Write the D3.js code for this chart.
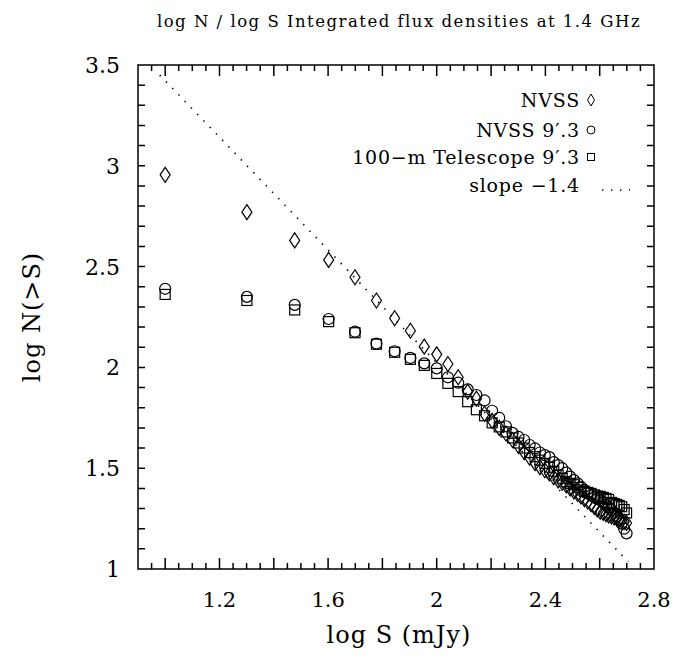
<!DOCTYPE html>
<html>
<head>
<meta charset="utf-8">
<script src="https://cdn.jsdelivr.net/npm/d3@7"></script>
<style>
  body { margin: 0; background: #fff; }
  text { font-family: "DejaVu Serif", "Liberation Serif", serif; fill: #000; }
</style>
</head>
<body>
<svg id="chart" width="688" height="659"></svg>
<script>
// log S (mJy), thresholds 10, 20, ... 500 mJy
const logS = [1.000, 1.301, 1.477, 1.602, 1.699, 1.778, 1.845, 1.903, 1.954, 2.000,
  2.041, 2.079, 2.114, 2.146, 2.176, 2.204, 2.230, 2.255, 2.279, 2.301,
  2.322, 2.342, 2.362, 2.380, 2.398, 2.415, 2.431, 2.447, 2.462, 2.477,
  2.491, 2.505, 2.519, 2.531, 2.544, 2.556, 2.568, 2.580, 2.591, 2.602,
  2.613, 2.623, 2.633, 2.643, 2.653, 2.663, 2.672, 2.681, 2.690, 2.699];

// NVSS (diamonds)
const nvss = [2.955, 2.770, 2.630, 2.533, 2.447, 2.332, 2.244, 2.182, 2.103, 2.065,
  2.017, 1.951, 1.880, 1.845, 1.770, 1.735, 1.700, 1.672, 1.640, 1.610,
  1.580, 1.552, 1.525, 1.505, 1.490, 1.474, 1.455, 1.440, 1.428, 1.415,
  1.400, 1.385, 1.372, 1.360, 1.347, 1.335, 1.322, 1.308, 1.296, 1.285,
  1.278, 1.272, 1.266, 1.261, 1.256, 1.251, 1.246, 1.240, 1.234, 1.228];

// NVSS 9'.3 (circles)
const nvss93 = [2.390, 2.350, 2.310, 2.240, 2.177, 2.118, 2.080, 2.047, 2.020, 1.995,
  1.951, 1.924, 1.891, 1.863, 1.836, 1.785, 1.750, 1.708, 1.675, 1.655,
  1.640, 1.615, 1.598, 1.578, 1.565, 1.555, 1.530, 1.515, 1.500, 1.478,
  1.458, 1.441, 1.425, 1.408, 1.392, 1.378, 1.365, 1.355, 1.348, 1.342,
  1.330, 1.318, 1.305, 1.293, 1.278, 1.262, 1.243, 1.225, 1.200, 1.177];

// 100-m Telescope 9'.3 (squares)
const telescope = [2.362, 2.332, 2.285, 2.227, 2.172, 2.115, 2.075, 2.040, 2.010, 1.970,
  1.921, 1.880, 1.830, 1.790, 1.760, 1.725, 1.705, 1.680, 1.650, 1.625,
  1.600, 1.578, 1.557, 1.540, 1.524, 1.505, 1.485, 1.466, 1.450, 1.433,
  1.425, 1.418, 1.405, 1.392, 1.385, 1.380, 1.375, 1.368, 1.362, 1.360,
  1.355, 1.350, 1.345, 1.330, 1.325, 1.320, 1.315, 1.309, 1.295, 1.278];

// slope -1.4 reference line, end points
const slopeX = [0.98, 2.705];
const slopeY = [3.45, 1.036];

const xTickLabels = [1.2, 1.6, 2, 2.4, 2.8];
const yTickLabels = [1, 1.5, 2, 2.5, 3, 3.5];
const legendLabels = ["NVSS", "NVSS 9\u2032.3", "100\u2212m Telescope 9\u2032.3", "slope \u22121.4"];

const svg = d3.select("#chart");
const pLeft = 138, pRight = 654, pTop = 65, pBottom = 569;

const x = d3.scaleLinear().domain([0.9, 2.8]).range([pLeft, pRight]);
const y = d3.scaleLinear().domain([1, 3.5]).range([pBottom, pTop]);

const g = svg.append("g");

// frame and inward ticks in one path (x: minor 0.05, major 0.2; y: every 0.1)
let framePath = `M${pLeft},${pTop}H${pRight}V${pBottom}H${pLeft}Z`;
for (let i = 0; i <= 38; i++) {
  const px = Math.round(x(0.9 + i * 0.05) * 10) / 10;
  const len = (i - 2) % 4 === 0 ? 11 : 6;
  framePath += ` M${px},${pBottom} L${px},${pBottom - len} M${px},${pTop} L${px},${pTop + len}`;
}
for (let i = 0; i <= 25; i++) {
  const py = Math.round(y(1 + i * 0.1) * 10) / 10;
  framePath += ` M${pLeft},${py} L${pLeft + 7},${py} M${pRight},${py} L${pRight - 7},${py}`;
}
g.append("path").attr("d", framePath)
  .attr("fill", "none").attr("stroke", "#000").attr("stroke-width", 1.5);

// tick labels
g.append("g").selectAll("text").data(xTickLabels).join("text")
  .attr("x", d => x(d)).attr("y", pBottom + 38)
  .attr("text-anchor", "middle").attr("font-size", 21)
  .text(d => d);
g.append("g").selectAll("text").data(yTickLabels).join("text")
  .attr("x", pLeft - 18).attr("y", d => y(d) + 8)
  .attr("text-anchor", "end").attr("font-size", 22)
  .text(d => d);

// titles
svg.append("text").attr("x", 399).attr("y", 27)
  .attr("text-anchor", "middle").attr("font-size", 16.5)
  .attr("letter-spacing", 1.5)
  .text("log N / log S Integrated flux densities at 1.4 GHz");
svg.append("text").attr("x", 399).attr("y", 643)
  .attr("text-anchor", "middle").attr("font-size", 24)
  .attr("letter-spacing", 1)
  .text("log S (mJy)");
svg.append("text").attr("transform", "translate(40,317) rotate(-90)")
  .attr("text-anchor", "middle").attr("font-size", 24)
  .attr("letter-spacing", 1)
  .text("log N(>S)");

// slope line
g.append("line")
  .attr("x1", x(slopeX[0])).attr("y1", y(slopeY[0]))
  .attr("x2", x(slopeX[1])).attr("y2", y(slopeY[1]))
  .attr("stroke", "#000").attr("stroke-width", 1.6)
  .attr("stroke-dasharray", "1.4 7.6");

// markers
const pts = (vals) => logS.map((s, i) => ({ s: s, v: vals[i] }));
const stroke = (sel) => sel.attr("fill", "none").attr("stroke", "#000").attr("stroke-width", 1.2);

const diamond = (cx, cy, w, h) => `M${cx},${cy - h}L${cx + w},${cy}L${cx},${cy + h}L${cx - w},${cy}Z`;

g.append("g").selectAll("path").data(pts(nvss)).join("path")
  .attr("d", d => diamond(x(d.s), y(d.v), 5, 7.5)).call(stroke);

g.append("g").selectAll("circle").data(pts(nvss93)).join("circle")
  .attr("cx", d => x(d.s)).attr("cy", d => y(d.v)).attr("r", 5.5).call(stroke);

g.append("g").selectAll("rect").data(pts(telescope)).join("rect")
  .attr("x", d => x(d.s) - 5).attr("y", d => y(d.v) - 5)
  .attr("width", 10).attr("height", 10).call(stroke);

// legend
const lg = svg.append("g");
const rowY = [100, 130, 157, 185];
lg.selectAll("text").data(legendLabels).join("text")
  .attr("x", 580).attr("y", (d, i) => rowY[i] + 7)
  .attr("text-anchor", "end").attr("font-size", 19)
  .attr("letter-spacing", 0.8)
  .text(d => d);
lg.append("path").attr("d", diamond(591, rowY[0], 3.5, 6)).call(stroke).attr("stroke-width", 1);
lg.append("circle").attr("cx", 591).attr("cy", rowY[1]).attr("r", 4).call(stroke).attr("stroke-width", 1);
lg.append("rect").attr("x", 587.5).attr("y", rowY[2] - 3.5).attr("width", 7).attr("height", 7)
  .call(stroke).attr("stroke-width", 1);
lg.append("line").attr("x1", 602).attr("x2", 630).attr("y1", rowY[3] + 5).attr("y2", rowY[3] + 5)
  .attr("stroke", "#000").attr("stroke-width", 1.4).attr("stroke-dasharray", "1.4 7.6");
</script>
</body>
</html>
